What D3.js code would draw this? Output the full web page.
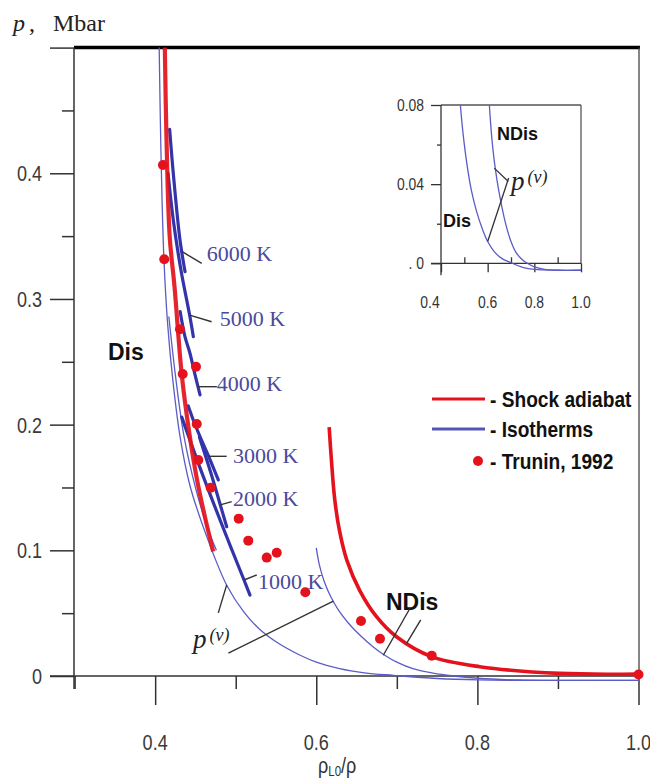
<!DOCTYPE html>
<html>
<head>
<meta charset="utf-8">
<script src="https://cdn.jsdelivr.net/npm/d3@7"></script>
<style>
  body { margin: 0; background: #fff; }
  svg { display: block; }
</style>
</head>
<body>
<svg id="chart" width="650" height="781"></svg>
<script>
// ---- data: relative volume v = rho_L0/rho, pressure p in Mbar ----

// Shock adiabat, dissociating branch
const shockDis = [[0.412,0.5],[0.414,0.43],[0.418,0.35],[0.424,0.31],[0.433,0.24],
  [0.442,0.195],[0.452,0.156],[0.462,0.126],[0.472,0.099]];
// Shock adiabat, non-dissociating branch
const shockNDis = [[0.616,0.198],[0.619,0.17],[0.623,0.14],[0.629,0.115],[0.638,0.092],
  [0.654,0.068],[0.675,0.047],[0.70,0.031],[0.743,0.0154],[0.803,0.0074],[0.902,0.0021],[1.0,0.0016]];

// Cold curves p(v)
const coldDis = [[0.405,0.5],[0.4065,0.44],[0.4085,0.38],[0.411,0.33],[0.4155,0.28],[0.422,0.235],
  [0.431,0.19],[0.443,0.152],[0.464,0.111],[0.489,0.072],[0.51,0.051],[0.53,0.037],[0.553,0.026],
  [0.58,0.0165],[0.60,0.011],[0.629,0.0058],[0.66,0.0025],[0.696,0.0005],[0.75,-0.002],[0.80,-0.0031],
  [0.9,-0.0035],[1.0,-0.0035]];
const coldDisUpper = [[0.417,0.286],[0.425,0.24],[0.436,0.19],[0.45,0.15],[0.465,0.118],[0.476,0.1]];
const coldNDis = [[0.60,0.102],[0.604,0.088],[0.61,0.075],[0.618,0.063],[0.628,0.052],[0.64,0.042],
  [0.655,0.032],[0.67,0.0235],[0.685,0.0165],[0.70,0.011],[0.72,0.0058],[0.745,0.0022],[0.77,0.0],
  [0.80,-0.0018],[0.85,-0.0032],[0.9,-0.0035],[1.0,-0.0035]];

// Isotherms
const isothermNames = ["6000 K","5000 K","4000 K","3000 K","2000 K","1000 K"];
const isothermPts = [
  [[0.418,0.435],[0.4225,0.40],[0.4308,0.347],[0.4371,0.3217]],
  [[0.416,0.40],[0.4225,0.3628],[0.432,0.323],[0.4428,0.2872],[0.4474,0.27]],
  [[0.431,0.29],[0.437,0.27],[0.4432,0.2568],[0.449,0.241],[0.4557,0.2236]],
  [[0.441,0.215],[0.4473,0.2037],[0.46,0.184],[0.4664,0.1748],[0.4784,0.156]],
  [[0.455,0.19],[0.4706,0.1586],[0.4809,0.1361],[0.4888,0.1188]],
  [[0.433,0.206],[0.4598,0.1586],[0.4888,0.1108],[0.5103,0.0764],[0.5177,0.0644]]
];
// point on each isotherm where its label leader starts
const isothermAnchors = [[0.4335,0.3376],[0.4428,0.2872],[0.453,0.2302],[0.4664,0.1748],[0.4809,0.1361],[0.5103,0.0764]];

// Trunin, 1992 experimental points
const truninV = [0.4097,0.4113,0.4308,0.4507,0.4342,0.4516,0.4536,0.4689,0.5037,0.5156,0.5385,0.5509,0.5864,0.6555,0.6791,0.7433,1.0];
const truninP = [0.4066,0.3316,0.2759,0.2461,0.2403,0.2005,0.1719,0.1498,0.1252,0.1077,0.0942,0.0981,0.0666,0.0438,0.0297,0.0162,0.0012];

// Axis ticks
const xMajor = [0.4,0.6,0.8,1.0];
const xMinor = [0.3,0.5,0.7,0.9];
const yMajor = [0,0.1,0.2,0.3,0.4,0.5];
const yMinor = [0.05,0.15,0.25,0.35,0.45];
const insetXMajor = [0.4,0.6,0.8,1.0];
const insetXMinor = [0.5,0.7,0.9];
const insetYMajor = [0,0.04,0.08];
const insetYMinor = [0.02,0.06];
const insetYLabels = [". 0","0.04","0.08"];

const legendItems = ["- Shock adiabat","- Isotherms","- Trunin, 1992"];

// ---- drawing ----
const RED = "#e3121c", ISO = "#3434aa", THIN = "#5c5cc6", INK = "#333", LABEL = "#4a4a9c";
const svg = d3.select("#chart");

const x = d3.scaleLinear().domain([0.3, 1.0]).range([74.6, 638.5]);
const y = d3.scaleLinear().domain([0, 0.5]).range([676, 47.6]);

const line = (sx, sy) => d3.line().x(d => sx(d[0])).y(d => sy(d[1])).curve(d3.curveCatmullRom.alpha(0.5));
const mainLine = line(x, y);

// condensed sans text helper
function narrow(sel, px, py, txt, opts) {
  return sel.append("text")
    .attr("transform", `translate(${px},${py}) scale(${opts.sx || 0.82},1)`)
    .attr("font-family", "Liberation Sans, Arial, sans-serif")
    .attr("font-size", opts.size)
    .attr("font-weight", opts.weight || "normal")
    .attr("fill", opts.fill || INK)
    .attr("text-anchor", opts.anchor || "start")
    .text(txt);
}

// frame
const g = svg.append("g");
g.append("line").attr("x1", 74).attr("x2", 640).attr("y1", y(0.5)).attr("y2", y(0.5))
  .attr("stroke", "#000").attr("stroke-width", 3.5);
g.append("line").attr("x1", 639).attr("x2", 639).attr("y1", y(0.5)).attr("y2", y(0))
  .attr("stroke", "#444").attr("stroke-width", 1.3);
g.append("line").attr("x1", 74).attr("x2", 74).attr("y1", y(0.5)).attr("y2", y(0) + 13)
  .attr("stroke", INK).attr("stroke-width", 1.5);
g.append("line").attr("x1", 50).attr("x2", 639).attr("y1", y(0)).attr("y2", y(0))
  .attr("stroke", INK).attr("stroke-width", 1.5);

// x ticks
g.append("g").attr("transform", `translate(0,${y(0)})`)
  .call(d3.axisBottom(x).tickValues(xMajor).tickSize(29).tickFormat(""))
  .call(a => a.select(".domain").remove())
  .call(a => a.selectAll("line").attr("stroke", INK).attr("stroke-width", 1.5));
g.append("g").attr("transform", `translate(0,${y(0)})`)
  .call(d3.axisBottom(x).tickValues(xMinor).tickSize(13).tickFormat(""))
  .call(a => a.select(".domain").remove())
  .call(a => a.selectAll("line").attr("stroke", INK).attr("stroke-width", 1.5));
xMajor.forEach(v => narrow(g, x(v), 750, v.toFixed(1), {size: 22, anchor: "middle", fill: "#3a3a3a"}));

// y ticks
g.append("g").attr("transform", "translate(74,0)")
  .call(d3.axisLeft(y).tickValues(yMajor).tickSize(24).tickFormat(""))
  .call(a => a.select(".domain").remove())
  .call(a => a.selectAll("line").attr("stroke", INK).attr("stroke-width", 1.5));
g.append("g").attr("transform", "translate(74,0)")
  .call(d3.axisLeft(y).tickValues(yMinor).tickSize(12).tickFormat(""))
  .call(a => a.select(".domain").remove())
  .call(a => a.selectAll("line").attr("stroke", INK).attr("stroke-width", 1.5));
yMajor.filter(v => v < 0.5).forEach(v =>
  narrow(g, 42, y(v) + 8, v === 0 ? "0" : v.toFixed(1), {size: 22, anchor: "end", fill: "#3a3a3a"}));

// axis titles
const yt = svg.append("text").attr("x", 13).attr("y", 31)
  .attr("font-family", "Liberation Serif, Times New Roman, serif").attr("font-size", 24).attr("fill", "#222");
yt.append("tspan").attr("font-style", "italic").text("p");
yt.append("tspan").attr("dx", 4).text(",");
yt.append("tspan").attr("x", 53).text("Mbar");

const xt = svg.append("text").attr("transform", "translate(318,773) scale(0.82,1)")
  .attr("font-family", "Liberation Sans, Arial, sans-serif").attr("font-size", 22).attr("fill", "#333");
xt.append("tspan").text("ρ");
xt.append("tspan").attr("font-size", 14).attr("dy", 3).text("L0");
xt.append("tspan").attr("dy", -3).text("/ρ");

// curves
const curves = svg.append("g").attr("fill", "none");
[coldDis, coldDisUpper, coldNDis].forEach(d =>
  curves.append("path").attr("d", mainLine(d)).attr("stroke", THIN).attr("stroke-width", 1.3));
isothermPts.forEach(d =>
  curves.append("path").attr("d", mainLine(d)).attr("stroke", ISO).attr("stroke-width", 3.2)
    .attr("stroke-linecap", "round"));
curves.append("path").attr("d", mainLine(shockDis)).attr("stroke", RED).attr("stroke-width", 4.2)
  .attr("stroke-opacity", 0.92);
curves.append("path").attr("d", mainLine(shockNDis)).attr("stroke", RED).attr("stroke-width", 3.6);

svg.append("g").selectAll("circle").data(truninV).join("circle")
  .attr("cx", d => x(d)).attr("cy", (d, i) => y(truninP[i])).attr("r", 5).attr("fill", RED);

// isotherm labels with leaders
const isoLeaders = [[19.6,11.6,24.6,9.3],[22,6.7,30,11],[19,0,19,4.5],[18,0,24.4,6.3],[11.4,-3.3,12.7,1],[12.7,-5,14,9]];
isothermAnchors.forEach((a, i) => {
  const ax = x(a[0]), ay = y(a[1]), o = isoLeaders[i];
  svg.append("line").attr("x1", ax).attr("y1", ay).attr("x2", ax + o[0]).attr("y2", ay + o[1])
    .attr("stroke", INK).attr("stroke-width", 1.4);
  svg.append("text").attr("x", ax + o[2]).attr("y", ay + o[3])
    .attr("font-family", "Liberation Serif, Times New Roman, serif").attr("font-size", 22)
    .attr("fill", LABEL).text(isothermNames[i]);
});

// phase labels
svg.append("text").attr("x", 108).attr("y", 360).attr("font-family", "Liberation Sans, Arial, sans-serif")
  .attr("font-weight", "bold").attr("font-size", 23).attr("fill", "#111").text("Dis");
svg.append("text").attr("x", 386).attr("y", 610).attr("font-family", "Liberation Sans, Arial, sans-serif")
  .attr("font-weight", "bold").attr("font-size", 23).attr("fill", "#111").text("NDis");

// NDis leaders: to the cold curve and to the shock adiabat
[[[0.6832,0.0165],[26.7,-47]],[[0.7123,0.0262],[14,-23.3]]].forEach(([pt, o]) => {
  svg.append("line").attr("x1", x(pt[0])).attr("y1", y(pt[1]))
    .attr("x2", x(pt[0]) + o[0]).attr("y2", y(pt[1]) + o[1]).attr("stroke", INK).attr("stroke-width", 1.4);
});

// p(v) label and leaders in main plot
function pvLabel(px, py) {
  const t = svg.append("text").attr("x", px).attr("y", py)
    .attr("font-family", "Liberation Serif, Times New Roman, serif").attr("font-style", "italic").attr("fill", "#222");
  t.append("tspan").attr("font-size", 27).text("p");
  t.append("tspan").attr("font-size", 18).attr("dx", 3).attr("dy", -7).text("(v)");
}
[[[0.4888,0.0725],[-8.4,28]],[[0.6212,0.0595],[-105,52]]].forEach(([pt, o]) => {
  svg.append("line").attr("x1", x(pt[0])).attr("y1", y(pt[1]))
    .attr("x2", x(pt[0]) + o[0]).attr("y2", y(pt[1]) + o[1]).attr("stroke", INK).attr("stroke-width", 1.4);
});
pvLabel(193, 648);

// legend
const lg = svg.append("g");
lg.append("line").attr("x1", 432).attr("x2", 485).attr("y1", 399).attr("y2", 399).attr("stroke", RED).attr("stroke-width", 3.2);
lg.append("line").attr("x1", 432).attr("x2", 485).attr("y1", 429).attr("y2", 429).attr("stroke", "#5656b8").attr("stroke-width", 3.2);
lg.append("circle").attr("cx", 478).attr("cy", 461).attr("r", 5).attr("fill", RED);
legendItems.forEach((t, i) => narrow(lg, 490, [407, 437, 469][i], t, {size: 22, weight: "bold", fill: "#111", sx: 0.87}));

// ---- inset: low-pressure detail ----
const xi = d3.scaleLinear().domain([0.4, 1.0]).range([441, 581]);
const yi = d3.scaleLinear().domain([0, 0.08]).range([263.3, 105]);
const insetLine = line(xi, yi);
const ins = svg.append("g");
ins.append("clipPath").attr("id", "insetClip").append("rect")
  .attr("x", 441).attr("y", 105).attr("width", 140).attr("height", 172);

ins.append("line").attr("x1", 441).attr("x2", 581).attr("y1", yi(0.08)).attr("y2", yi(0.08)).attr("stroke", "#555").attr("stroke-width", 1.3);
ins.append("line").attr("x1", 581).attr("x2", 581).attr("y1", yi(0.08)).attr("y2", yi(0)).attr("stroke", "#555").attr("stroke-width", 1.3);
ins.append("line").attr("x1", 441).attr("x2", 441).attr("y1", yi(0.08)).attr("y2", yi(0) + 12).attr("stroke", INK).attr("stroke-width", 1.3);
ins.append("line").attr("x1", 431).attr("x2", 581).attr("y1", yi(0)).attr("y2", yi(0)).attr("stroke", INK).attr("stroke-width", 1.3);

ins.append("g").attr("transform", `translate(441,0)`)
  .call(d3.axisLeft(yi).tickValues(insetYMajor).tickSize(10).tickFormat(""))
  .call(a => a.select(".domain").remove())
  .call(a => a.selectAll("line").attr("stroke", INK).attr("stroke-width", 1.3));
ins.append("g").attr("transform", `translate(441,0)`)
  .call(d3.axisLeft(yi).tickValues(insetYMinor).tickSize(4).tickFormat(""))
  .call(a => a.select(".domain").remove())
  .call(a => a.selectAll("line").attr("stroke", INK).attr("stroke-width", 1.3));
ins.append("g").attr("transform", `translate(0,${yi(0)})`)
  .call(d3.axisBottom(xi).tickValues(insetXMajor).tickSize(9).tickFormat(""))
  .call(a => a.select(".domain").remove())
  .call(a => a.selectAll("line").attr("stroke", INK).attr("stroke-width", 1.3));
ins.append("g").attr("transform", `translate(0,${yi(0)})`)
  .call(d3.axisTop(xi).tickValues(insetXMinor).tickSize(6).tickFormat(""))
  .call(a => a.select(".domain").remove())
  .call(a => a.selectAll("line").attr("stroke", INK).attr("stroke-width", 1.3));

insetYMajor.forEach((v, i) => narrow(ins, 424, yi(v) + 6, insetYLabels[i], {size: 17, anchor: "end", fill: "#333"}));
insetXMajor.forEach(v => narrow(ins, xi(v) + (v === 0.4 ? -11 : 0), 308, v.toFixed(1), {size: 17, anchor: "middle", fill: "#333"}));

const insCurves = ins.append("g").attr("clip-path", "url(#insetClip)").attr("fill", "none");
[coldDis, coldNDis].forEach(d =>
  insCurves.append("path").attr("d", insetLine(d)).attr("stroke", THIN).attr("stroke-width", 1.3));

ins.append("text").attr("x", 497).attr("y", 140).attr("font-family", "Liberation Sans, Arial, sans-serif")
  .attr("font-weight", "bold").attr("font-size", 18).attr("fill", "#111").text("NDis");
ins.append("text").attr("x", 443).attr("y", 227).attr("font-family", "Liberation Sans, Arial, sans-serif")
  .attr("font-weight", "bold").attr("font-size", 18).attr("fill", "#111").text("Dis");

// inset p(v) leaders meeting at one vertex
[[[0.6284,0.0481],[14,13.4]],[[0.6,0.011],[21,-63.5]]].forEach(([pt, o]) => {
  ins.append("line").attr("x1", xi(pt[0])).attr("y1", yi(pt[1]))
    .attr("x2", xi(pt[0]) + o[0]).attr("y2", yi(pt[1]) + o[1]).attr("stroke", INK).attr("stroke-width", 1.3);
});
pvLabel(511, 190);
</script>
</body>
</html>
